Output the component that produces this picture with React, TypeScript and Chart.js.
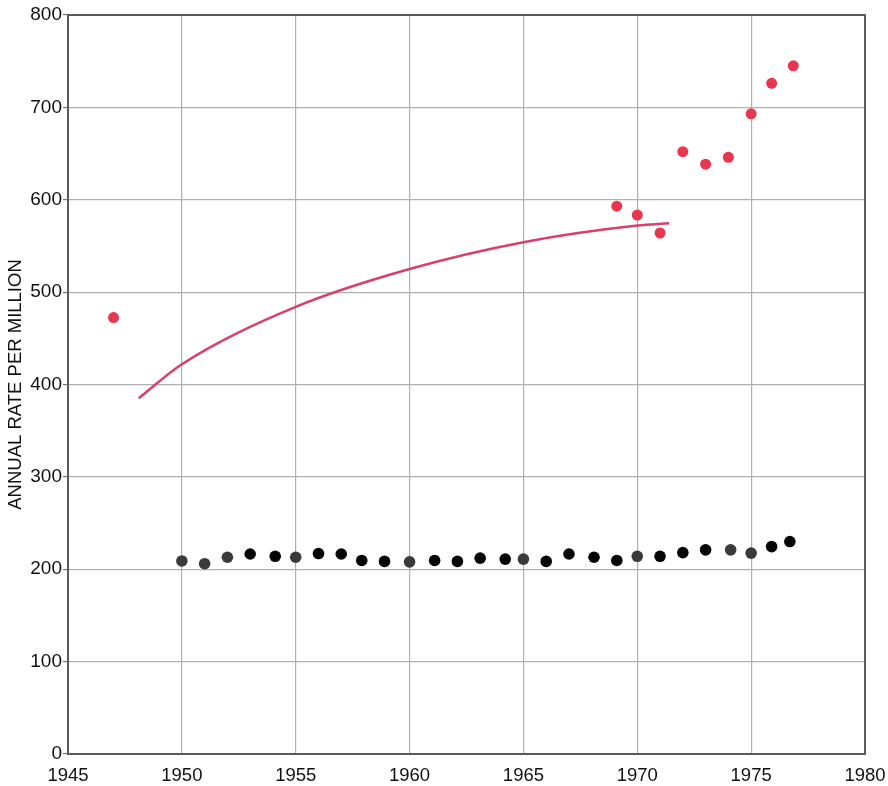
import React, { useEffect, useRef } from "react";
import { Chart, registerables } from "chart.js";

Chart.register(...registerables);

// Black series (lower)
const blackYears = [1950, 1951, 1952, 1953, 1954.1, 1955, 1956, 1957, 1957.9, 1958.9, 1960, 1961.1, 1962.1, 1963.1, 1964.2, 1965, 1966, 1967, 1968.1, 1969.1, 1970, 1971, 1972, 1973, 1974.1, 1975, 1975.9, 1976.7];
const blackValues = [209, 206, 213, 216.5, 214, 213, 217, 216.5, 209.5, 208.5, 208, 209.5, 208.5, 212, 211, 211, 208.5, 216.5, 213, 209.5, 214, 214, 218, 221, 221, 217.5, 224.5, 230];
const blackShadeFlags = [1, 1, 1, 0, 0, 1, 0, 0, 0, 0, 1, 0, 0, 0, 0, 1, 0, 0, 0, 0, 1, 0, 0, 0, 1, 1, 0, 0];

// Red series (upper)
const redYears = [1947, 1969.1, 1970, 1971, 1972, 1973, 1974, 1975, 1975.9, 1976.85];
const redValues = [472.5, 593, 583.5, 564, 652, 638.5, 646, 693, 726, 745];

// Red fitted curve
const curveYears = [1948.1, 1950, 1955, 1960, 1965, 1970, 1971.4];
const curveValues = [385, 422, 484, 525, 554, 572, 574.5];

// Axis ticks
const xMin = 1945;
const xMax = 1980;
const xStep = 5;
const yMin = 0;
const yMax = 800;
const yStep = 100;

const FONT = '"Liberation Sans", Arial, Helvetica, sans-serif';

const framePlugin = {
  id: "frame",
  beforeDatasetsDraw(chart: any) {
    const { ctx, chartArea } = chart;
    ctx.save();
    ctx.strokeStyle = "#5a5a5a";
    ctx.lineWidth = 2;
    ctx.strokeRect(chartArea.left, chartArea.top, chartArea.right - chartArea.left, chartArea.bottom - chartArea.top);
    ctx.restore();
  },
};

export default function App() {
  const ref = useRef<HTMLCanvasElement | null>(null);

  useEffect(() => {
    document.body.style.margin = "0";
    const canvas = ref.current;
    if (!canvas) return;

    const blackPts = blackYears.map((x, i) => ({ x, y: blackValues[i] }));
    const redPts = redYears.map((x, i) => ({ x, y: redValues[i] }));
    const curvePts = curveYears.map((x, i) => ({ x, y: curveValues[i] }));
    const blackColors = blackShadeFlags.map((f) => (f ? "#3a3a3a" : "#050505"));

    const chart = new Chart(canvas, {
      type: "scatter",
      data: {
        datasets: [
          {
            label: "curve",
            data: curvePts,
            showLine: true,
            borderColor: "#d8406a",
            borderWidth: 2.5,
            pointRadius: 0,
            fill: false,
            cubicInterpolationMode: "monotone",
            order: 3,
          } as any,
          {
            label: "red",
            data: redPts,
            backgroundColor: "#e8364f",
            borderColor: "#e8364f",
            pointRadius: 5.5,
            borderWidth: 0,
            order: 1,
          },
          {
            label: "black",
            data: blackPts,
            backgroundColor: blackColors,
            borderColor: blackColors,
            pointRadius: 5.8,
            borderWidth: 0,
            order: 2,
          },
        ],
      },
      options: {
        animation: false,
        responsive: false,
        maintainAspectRatio: false,
        layout: { padding: { top: 15, right: 23, left: 0, bottom: 0 } },
        plugins: {
          legend: { display: false },
          tooltip: { enabled: false },
        },
        scales: {
          x: {
            type: "linear",
            min: xMin,
            max: xMax,
            ticks: {
              stepSize: xStep,
              color: "#111",
              font: { family: FONT, size: 18.5 },
              padding: 11,
              callback: (v: any) => String(v),
            },
            grid: { color: "#b0b0b0", lineWidth: 1.2, drawTicks: false },
            border: { display: false },
            afterFit: (scale: any) => {
              scale.height = 32;
              scale.paddingLeft = 0;
              scale.paddingRight = 0;
            },
          },
          y: {
            type: "linear",
            min: yMin,
            max: yMax,
            ticks: {
              stepSize: yStep,
              color: "#111",
              font: { family: FONT, size: 19 },
              padding: 1,
            },
            grid: { color: "#b0b0b0", lineWidth: 1.2, tickLength: 5, tickColor: "#777" },
            border: { display: false },
            title: {
              display: true,
              text: "ANNUAL RATE PER MILLION",
              color: "#111",
              font: { family: FONT, size: 18.5 },
              padding: { top: 5, bottom: 0 },
            },
            afterFit: (scale: any) => {
              scale.width = 68;
              scale.paddingTop = 0;
              scale.paddingBottom = 0;
            },
          },
        },
      } as any,
      plugins: [framePlugin],
    });

    return () => chart.destroy();
  }, []);

  return (
    <div style={{ width: 888, height: 786, background: "#fff" }}>
      <canvas ref={ref} width={888} height={786} style={{ display: "block" }} />
    </div>
  );
}
